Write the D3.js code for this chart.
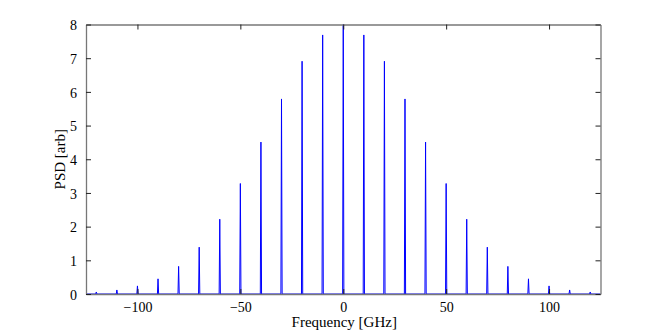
<!DOCTYPE html>
<html>
<head>
<meta charset="utf-8">
<script src="https://cdn.jsdelivr.net/npm/d3@7/dist/d3.min.js"></script>
<style>
  html, body { margin: 0; padding: 0; background: #fff; }
  svg { display: block; }
  text { font-family: "Liberation Serif", "Times New Roman", serif; fill: #000; }
</style>
</head>
<body>
<svg id="chart" width="664" height="332"></svg>
<script>
// ---- data ----
const frequencies = [-120, -110, -100, -90, -80, -70, -60, -50, -40, -30, -20, -10, 0,
                     10, 20, 30, 40, 50, 60, 70, 80, 90, 100, 110, 120];
const psd = [0.06, 0.12, 0.24, 0.45, 0.82, 1.39, 2.22, 3.28, 4.51, 5.79, 6.91, 7.69, 8.0,
             7.69, 6.91, 5.79, 4.51, 3.28, 2.22, 1.39, 0.82, 0.45, 0.24, 0.12, 0.06];
const xDomain = [-125, 125];
const yDomain = [0, 8];
const xTicks = [-100, -50, 0, 50, 100];
const yTicks = [0, 1, 2, 3, 4, 5, 6, 7, 8];
const xLabel = "Frequency [GHz]";
const yLabel = "PSD [arb]";

// ---- layout ----
const L = 86, R = 600.5, T = 24.5, B = 294;
const svg = d3.select("#chart");
const x = d3.scaleLinear().domain(xDomain).range([L, R]);
const y = d3.scaleLinear().domain(yDomain).range([B, T]);

// spectrum line: baseline with narrow peaks
const halfWidth = 0.3;
const pts = [[xDomain[0], 0]];
frequencies.forEach((f, i) => {
  pts.push([f - halfWidth, 0], [f, psd[i]], [f + halfWidth, 0]);
});
pts.push([xDomain[1], 0]);

svg.append("path")
  .datum(pts)
  .attr("fill", "none")
  .attr("stroke", "#0000ff")
  .attr("stroke-width", 1)
  .attr("d", d3.line().x(d => x(d[0])).y(d => y(d[1])));

// axes (box with inward ticks on all sides)
const tickLen = 5;
const gB = svg.append("g").attr("transform", `translate(0,${B})`)
  .call(d3.axisBottom(x).tickValues(xTicks).tickSizeInner(-tickLen).tickSizeOuter(0).tickPadding(8)
    .tickFormat(d => d < 0 ? "\u2212" + Math.abs(d) : d));
const gT = svg.append("g").attr("transform", `translate(0,${T})`)
  .call(d3.axisTop(x).tickValues(xTicks).tickSizeInner(-tickLen).tickSizeOuter(0).tickFormat(""));
const gL = svg.append("g").attr("transform", `translate(${L},0)`)
  .call(d3.axisLeft(y).tickValues(yTicks).tickSizeInner(-tickLen).tickSizeOuter(0).tickPadding(9));
const gR = svg.append("g").attr("transform", `translate(${R},0)`)
  .call(d3.axisRight(y).tickValues(yTicks).tickSizeInner(-tickLen).tickSizeOuter(0).tickFormat(""));

[gB, gT, gL, gR].forEach(g => {
  g.select(".domain").attr("stroke", "#777").attr("stroke-width", 1.3);
  g.selectAll(".tick line").attr("stroke", "#222").attr("stroke-width", 1);
  g.selectAll("text").style("font-family", "'Liberation Serif', serif").style("font-size", "14px").attr("fill", "#000");
});
gB.selectAll("text").attr("dy", "0.71em");
gL.selectAll("text").attr("dy", "0.38em");

// axis labels
svg.append("text")
  .attr("x", (L + R) / 2 + 1).attr("y", 327)
  .attr("text-anchor", "middle")
  .style("font-size", "15px")
  .text(xLabel);
svg.append("text")
  .attr("transform", `translate(65,${(T + B) / 2}) rotate(-90)`)
  .attr("text-anchor", "middle")
  .style("font-size", "15px")
  .text(yLabel);
</script>
</body>
</html>
